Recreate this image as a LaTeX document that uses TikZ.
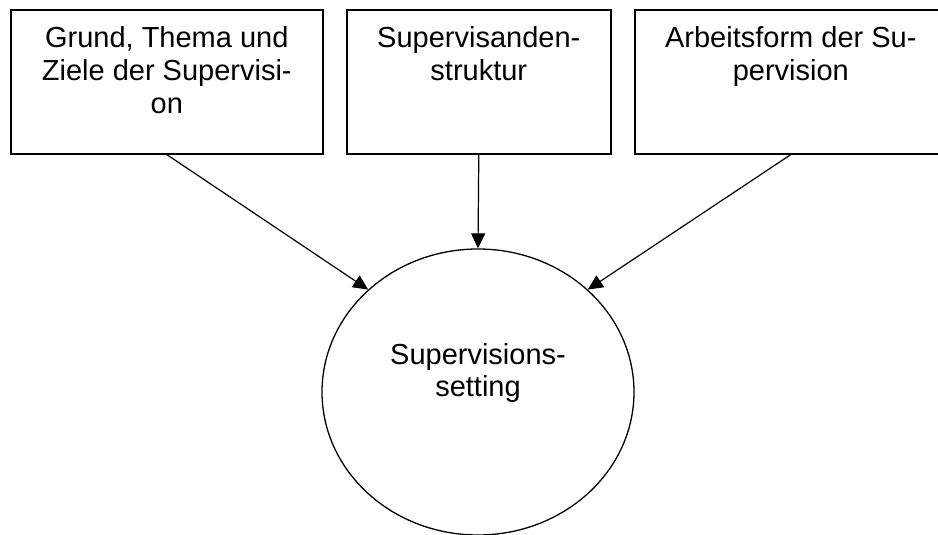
\documentclass[tikz,border=0pt]{standalone}
\usepackage{fontspec}
\setmainfont{Liberation Sans}
\usetikzlibrary{arrows.meta,shapes.geometric}
% text set at the top of a box of fixed height
\newcommand\boxtext[2]{\parbox[t][144pt][t]{#1}{\centering\fontsize{29}{33}\selectfont\vspace*{17pt}#2}}
\begin{document}
\begin{tikzpicture}[x=1pt,y=-1pt,
  box/.style={draw, line width=1.6pt, inner sep=0pt, anchor=north west},
  flow/.style={line width=1.2pt, -{Triangle[length=15pt,width=14pt]}},
  oval/.style={draw, ellipse, line width=1.3pt, inner sep=0pt,
               minimum width=312pt, minimum height=286pt}]
\useasboundingbox (0,0) rectangle (938,535);

\node[box] (grund) at (10,9) {\boxtext{312pt}{Grund, Thema und\\Ziele der Supervisi-\\on}};
\node[box] (struktur) at (346,9) {\boxtext{264pt}{Supervisanden-\\struktur}};
\node[box] (form) at (634,9) {\boxtext{312pt}{Arbeitsform der Su-\\pervision}};

\node[oval] (setting) at (478,392)
  {\parbox{220pt}{\centering\fontsize{29}{33}\selectfont Supervisions-\\setting\par\vspace*{38pt}}};

\draw[flow] (grund.south) -- (setting.137);
\draw[flow] (struktur.south) -- (setting.north);
\draw[flow] (form.south) -- (setting.43);
\end{tikzpicture}
\end{document}
